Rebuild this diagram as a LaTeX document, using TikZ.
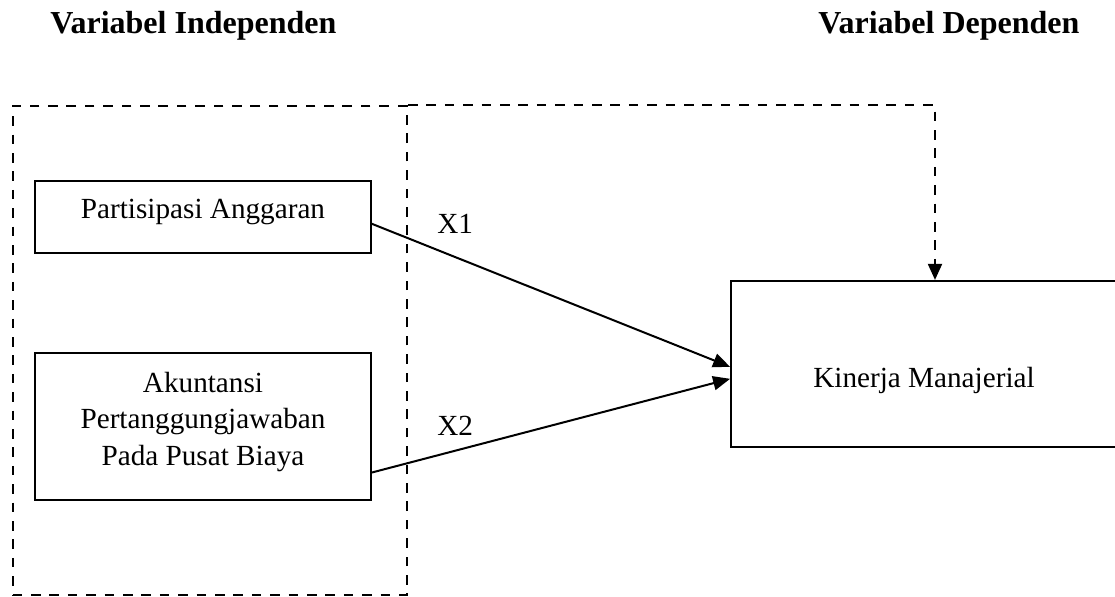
\documentclass[tikz,border=0pt]{standalone}
\usepackage{fontspec}
\setmainfont{Liberation Serif}
\usetikzlibrary{arrows.meta, positioning, calc}

\begin{document}
\begin{tikzpicture}[
  x=0.5pt, y=-0.5pt,
  font=\fontsize{14.6}{18.3}\selectfont,
  varbox/.style={draw, line width=0.9pt, align=center, inner sep=0pt,
                 minimum width=168pt},
  grpbox/.style={draw, line width=1pt, dash pattern=on 4.8pt off 4.4pt, inner sep=0pt,
                 minimum width=197.2pt, minimum height=244.5pt},
  head/.style={font=\fontsize{16}{19}\selectfont\bfseries, anchor=base west, inner sep=0pt},
  lbl/.style={anchor=base west, inner sep=0pt},
  a/.style={-{Triangle[length=8.5pt, width=7pt]}, line width=1pt},
  da/.style={-{Triangle[length=8pt, width=7pt]}, line width=1pt, dash pattern=on 4.8pt off 4.4pt}
]
\useasboundingbox (0,0) rectangle (1115,596);

\node[head] (hind) at (50,33) {Variabel Independen};
\node[head] (hdep) at (818,33) {Variabel Dependen};

\node[grpbox] (grp) at (209.85,350.5) {};

\node[varbox, minimum height=36pt, text height=8pt, text depth=6.8pt]
  (partisipasi) at (203,216.8) {Partisipasi Anggaran};
\node[varbox, minimum height=73.5pt, text depth=8pt] (akuntansi) at (203,426.5)
  {Akuntansi\\Pertanggungjawaban\\Pada Pusat Biaya};
\node[varbox, minimum width=193pt, minimum height=83pt,
      text height=23.8pt, text depth=0pt] (kinerja) at (924,363.8) {Kinerja Manajerial};

\draw[a] ([yshift=-3.5pt]partisipasi.east) -- ([yshift=-1.5pt]kinerja.west);
\draw[a] ([yshift=-23pt]akuntansi.east) -- ([yshift=-7.5pt]kinerja.west);
\draw[da] (grp.north east) -| ([xshift=5.5pt]kinerja.north);

\node[lbl] (x1) at (437,233) {X1};
\node[lbl] (x2) at (437,435) {X2};
\end{tikzpicture}
\end{document}
